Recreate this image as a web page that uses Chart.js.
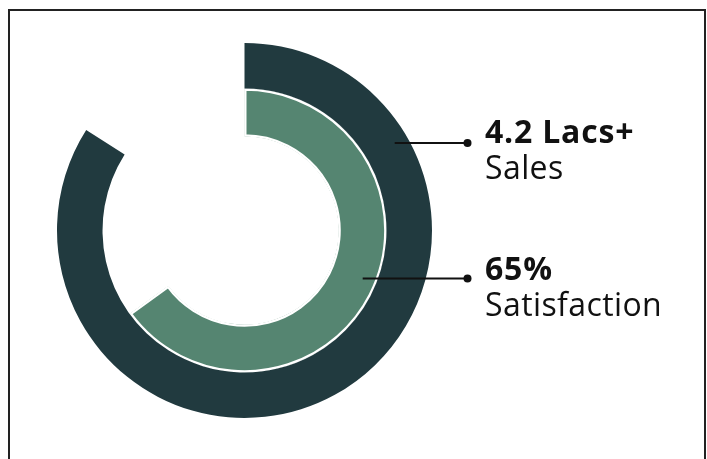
<!DOCTYPE html>
<html>
<head>
<meta charset="utf-8">
<title>Sales & Satisfaction</title>
<script src="https://cdn.jsdelivr.net/npm/chart.js@4"></script>
<style>
  html, body { margin: 0; padding: 0; background: #fff; }
  body { width: 707px; height: 459px; position: relative; overflow: hidden; }
  .frame {
    position: absolute; left: 8px; top: 9px; width: 694px; height: 470px;
    border: 2px solid #222; border-bottom: none;
  }
  #ringBox { position: absolute; left: 0; top: 0; width: 707px; height: 459px; }
  .callout {
    position: absolute; left: 485px;
    font-family: "Open Sans", "Noto Sans", sans-serif; font-size: 32px;
    line-height: 36px; color: #111; white-space: nowrap; letter-spacing: 0.4px;
  }
  .callout b { font-weight: 700; letter-spacing: 0.8px; }
</style>
</head>
<body>
<div class="frame"></div>
<div id="ringBox"><canvas id="rings"></canvas></div>
<div class="callout" id="c0" style="top:113px"></div>
<div class="callout" id="c1" style="top:250px"></div>

<script>
// figures shown on the rings
var salesLacs = 4.2;        // achieved
var salesTargetLacs = 5;    // full circle
var satisfactionPct = 65;

var headlines = ['4.2 Lacs+', '65%'];
var captions = ['Sales', 'Satisfaction'];

var darkTeal = '#213a3f';
var sageGreen = '#558571';

// text next to each ring
for (var i = 0; i < headlines.length; i++) {
  document.getElementById('c' + i).innerHTML = '<b>' + headlines[i] + '</b><br>' + captions[i];
}

// leader line from inside each ring out to its label
var leaderLines = {
  id: 'leaderLines',
  afterDatasetsDraw: function (chart, args, opts) {
    var ctx = chart.ctx;
    ctx.save();
    ctx.strokeStyle = '#111';
    ctx.fillStyle = '#111';
    ctx.lineWidth = 2;
    chart.data.datasets.forEach(function (ds, i) {
      var arc = chart.getDatasetMeta(i).data[0];
      var r = arc.innerRadius + opts.depth * (arc.outerRadius - arc.innerRadius);
      var dy = opts.dy[i];
      var x0 = arc.x + Math.sqrt(r * r - dy * dy);
      var y = arc.y + dy;
      var x1 = arc.x + opts.dotX;
      ctx.beginPath();
      ctx.moveTo(x0, y);
      ctx.lineTo(x1, y);
      ctx.stroke();
      ctx.beginPath();
      ctx.arc(x1, y, 4, 0, Math.PI * 2);
      ctx.fill();
    });
    ctx.restore();
  }
};

var ctx = document.getElementById('rings').getContext('2d');
var chart = new Chart(ctx, {
  type: 'doughnut',
  data: {
    labels: ['done', 'rest'],
    datasets: [{
      data: [salesLacs, salesTargetLacs - salesLacs],
      backgroundColor: [darkTeal, 'rgba(0,0,0,0)'],
      borderWidth: 0,
      weight: 45.5
    }, {
      data: [satisfactionPct, 100 - satisfactionPct],
      backgroundColor: [sageGreen, 'rgba(0,0,0,0)'],
      borderColor: '#ffffff',
      borderWidth: [2, 0],
      borderAlign: 'inner',
      weight: 48
    }]
  },
  options: {
    responsive: true,
    maintainAspectRatio: false,
    animation: false,
    events: [],
    cutout: '50.1%',
    hoverOffset: 0,
    hoverBorderWidth: 0,
    // keep the rings in a 375px square on the left, room for labels on the right
    layout: { padding: { left: 57, top: 43, right: 275, bottom: 41 } },
    plugins: {
      legend: { display: false },
      tooltip: { enabled: false },
      leaderLines: { depth: 0.7, dy: [-87.5, 48], dotX: 223 }
    }
  },
  plugins: [leaderLines]
});
</script>
</body>
</html>
